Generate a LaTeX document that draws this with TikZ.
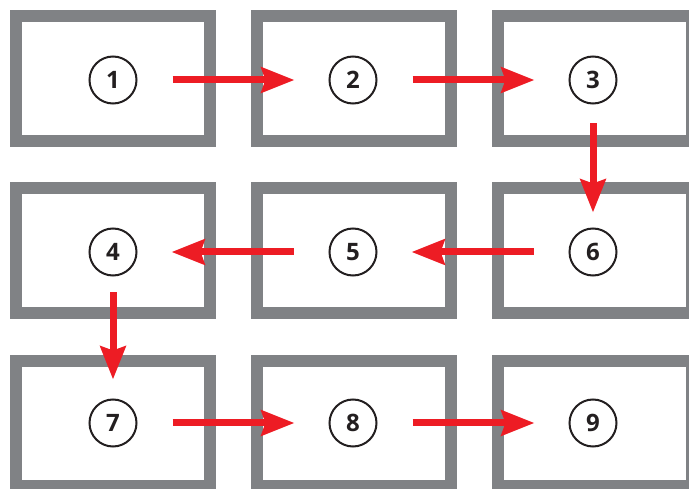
\documentclass[tikz,border=0pt]{standalone}
\usepackage{fontspec}
\setmainfont{Open Sans}
\usetikzlibrary{arrows.meta}
\definecolor{framegray}{HTML}{808285}
\definecolor{flowred}{HTML}{ED1C24}
\definecolor{inkblack}{HTML}{231F20}

\begin{document}
\begin{tikzpicture}[x=1pt,y=-1pt]
	\tikzstyle{frame} = [draw=framegray, line width=12pt, minimum width=194pt, minimum height=125pt, inner sep=0pt]
	\tikzstyle{num} = [circle, draw=inkblack, line width=2pt, minimum size=47pt, inner sep=0pt, text=inkblack, font=\fontsize{24}{24}\selectfont\bfseries]
	\tikzstyle{flow} = [draw=flowred, line width=7pt, -{Stealth[length=33pt, width=25pt, inset=4pt]}]
	\useasboundingbox (0,0) rectangle (689,489);
		% frames
		\node[frame] (f1) at (113,78.5)  {};
		\node[frame] (f2) at (354,78.5)  {};
		\node[frame] (f3) at (595,78.5)  {};
		\node[frame] (f4) at (113,250.5) {};
		\node[frame] (f5) at (354,250.5) {};
		\node[frame] (f6) at (595,250.5) {};
		\node[frame] (f7) at (113,423.5) {};
		\node[frame] (f8) at (354,423.5) {};
		\node[frame] (f9) at (595,423.5) {};
		% numbers
		\node[num] (n1) at (113,80)  {1};
		\node[num] (n2) at (353,80)  {2};
		\node[num] (n3) at (593,80)  {3};
		\node[num] (n4) at (113,252) {4};
		\node[num] (n5) at (353,252) {5};
		\node[num] (n6) at (593,252) {6};
		\node[num] (n7) at (113,423) {7};
		\node[num] (n8) at (353,423) {8};
		\node[num] (n9) at (593,423) {9};
  	\draw[flow, shorten <=35pt, shorten >=34pt] (n1) -- (n2);
  	\draw[flow, shorten <=35pt, shorten >=34pt] (n2) -- (n3);
  	\draw[flow, shorten <=19pt, shorten >=15pt] (n3) -- (n6);
  	\draw[flow, shorten <=35pt, shorten >=34pt] (n6) -- (n5);
  	\draw[flow, shorten <=35pt, shorten >=34pt] (n5) -- (n4);
  	\draw[flow, shorten <=16pt, shorten >=19pt] (n4) -- (n7);
  	\draw[flow, shorten <=35pt, shorten >=34pt] (n7) -- (n8);
  	\draw[flow, shorten <=35pt, shorten >=34pt] (n8) -- (n9);
	\end{tikzpicture}
\end{document}
